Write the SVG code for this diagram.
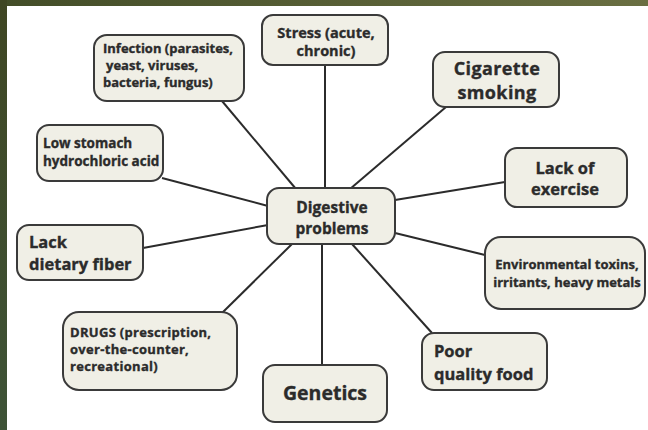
<svg xmlns="http://www.w3.org/2000/svg" width="648" height="430" viewBox="0 0 648 430">
<defs>
<linearGradient id="topg" x1="0" y1="0" x2="1" y2="0">
<stop offset="0" stop-color="#434d28"/>
<stop offset="1" stop-color="#6a6f42"/>
</linearGradient>
<linearGradient id="leftg" x1="0" y1="0" x2="0" y2="1">
<stop offset="0" stop-color="#3f4623"/>
<stop offset="1" stop-color="#3e5337"/>
</linearGradient>
<style>
.box{fill:#f0efe6;stroke:#3a3a3a;stroke-width:2}
.t{font-family:"Open Sans","Noto Sans","DejaVu Sans",sans-serif;font-weight:bold;fill:#2b2b2b;stroke:#2b2b2b;stroke-width:0.35}
.c{stroke:#2b2b2b;stroke-width:2;fill:none}
</style>
</defs>
<rect x="0" y="0" width="648" height="430" fill="#ffffff"/>
<rect x="0" y="0" width="648" height="6" fill="url(#topg)"/>
<rect x="0" y="0" width="7" height="430" fill="url(#leftg)"/>

<g id="connectors">
<line class="c" x1="296" y1="189" x2="222" y2="101"/>
<line class="c" x1="325" y1="65" x2="325" y2="188"/>
<line class="c" x1="350" y1="189" x2="446" y2="107"/>
<line class="c" x1="162" y1="178" x2="268" y2="206"/>
<line class="c" x1="143" y1="248" x2="268" y2="225"/>
<line class="c" x1="395" y1="200" x2="505" y2="182"/>
<line class="c" x1="395" y1="233" x2="485" y2="255"/>
<line class="c" x1="292" y1="244" x2="222" y2="313"/>
<line class="c" x1="322" y1="244" x2="322" y2="365"/>
<line class="c" x1="352" y1="244" x2="432" y2="333"/>
</g>

<g id="node-infection">
<rect class="box" x="94" y="35" width="150" height="66" rx="13"/>
<text class="t" font-size="13" x="103" y="53">Infection (parasites,</text>
<text class="t" font-size="13" x="106" y="70">yeast, viruses,</text>
<text class="t" font-size="13" x="103" y="87">bacteria, fungus)</text>
</g>

<g id="node-stress">
<rect class="box" x="262" y="15" width="126" height="50" rx="11"/>
<text class="t" font-size="14.5" x="326" y="38" text-anchor="middle">Stress (acute,</text>
<text class="t" font-size="14.5" x="326" y="56" text-anchor="middle">chronic)</text>
</g>

<g id="node-cigarette">
<rect class="box" x="433" y="52" width="126" height="55" rx="12"/>
<text class="t" font-size="18" letter-spacing="0.4" x="497" y="75" text-anchor="middle">Cigarette</text>
<text class="t" font-size="18" letter-spacing="0.4" x="497" y="99" text-anchor="middle">smoking</text>
</g>

<g id="node-lowstomach">
<rect class="box" x="37" y="125" width="126" height="56" rx="12"/>
<text class="t" font-size="13.5" x="43" y="148">Low stomach</text>
<text class="t" font-size="13.5" x="43" y="166">hydrochloric acid</text>
</g>

<g id="node-fiber">
<rect class="box" x="17" y="225" width="126" height="55" rx="12"/>
<text class="t" font-size="16.5" x="29" y="248">Lack</text>
<text class="t" font-size="16.5" x="29" y="270">dietary fiber</text>
</g>

<g id="node-digestive">
<rect class="box" x="267" y="188" width="128" height="56" rx="12"/>
<text class="t" font-size="15.5" x="332" y="213" text-anchor="middle">Digestive</text>
<text class="t" font-size="15.5" x="332" y="234" text-anchor="middle">problems</text>
</g>

<g id="node-exercise">
<rect class="box" x="505" y="148" width="122" height="59" rx="12"/>
<text class="t" font-size="16.5" x="565" y="174" text-anchor="middle">Lack of</text>
<text class="t" font-size="16.5" x="565" y="195" text-anchor="middle">exercise</text>
</g>

<g id="node-environmental">
<rect class="box" x="485" y="237" width="160" height="72" rx="16"/>
<text class="t" font-size="13" x="567" y="269" text-anchor="middle">Environmental toxins,</text>
<text class="t" font-size="13" x="567" y="287" text-anchor="middle">irritants, heavy metals</text>
</g>

<g id="node-drugs">
<rect class="box" x="63" y="312" width="174" height="78" rx="16"/>
<text class="t" font-size="13" letter-spacing="0.3" x="70" y="337">DRUGS (prescription,</text>
<text class="t" font-size="13" letter-spacing="0.3" x="70" y="354">over-the-counter,</text>
<text class="t" font-size="13" letter-spacing="0.3" x="70" y="371">recreational)</text>
</g>

<g id="node-genetics">
<rect class="box" x="263" y="365" width="124" height="57" rx="12"/>
<text class="t" font-size="19.5" x="325" y="400" text-anchor="middle">Genetics</text>
</g>

<g id="node-poorfood">
<rect class="box" x="422" y="333" width="125" height="57" rx="12"/>
<text class="t" font-size="16.5" x="434" y="357">Poor</text>
<text class="t" font-size="16.5" x="434" y="380">quality food</text>
</g>
</svg>
